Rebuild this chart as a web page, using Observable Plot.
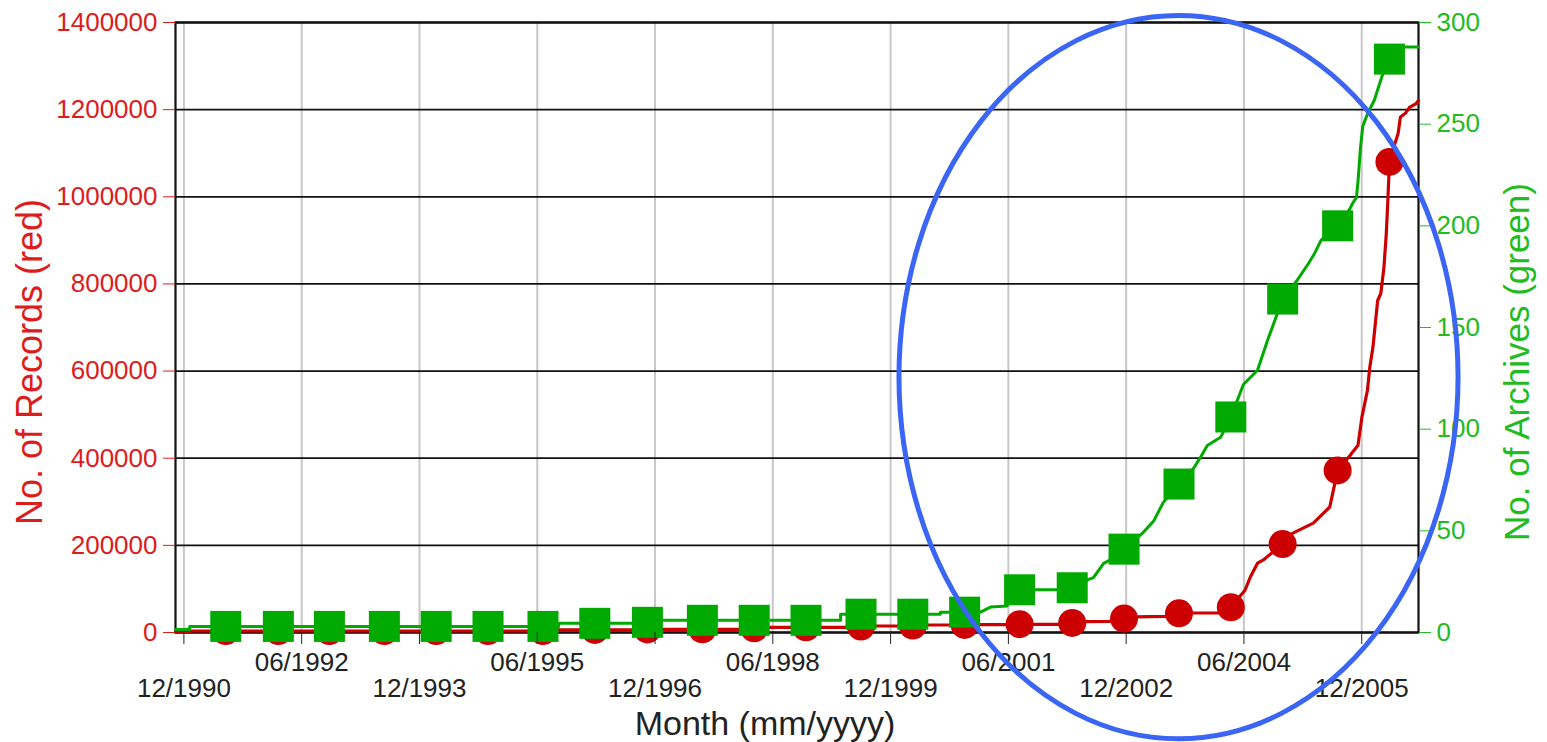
<!DOCTYPE html>
<html><head><meta charset="utf-8">
<script src="https://cdn.jsdelivr.net/npm/d3@7"></script>
<script src="https://cdn.jsdelivr.net/npm/@observablehq/plot@0.6"></script>
<style>
html,body{margin:0;padding:0;background:#fff;}
#chart{width:1547px;height:742px;}
</style></head><body><div id="chart"></div>
<script>
// ---- x axis ticks (decimal year) and labels ----
const tickYears = [1990.917, 1992.417, 1993.917, 1995.417, 1996.917, 1998.417, 1999.917, 2001.417, 2002.917, 2004.417, 2005.917];
const tickLabels = ["12/1990","06/1992","12/1993","06/1995","12/1996","06/1998","12/1999","06/2001","12/2002","06/2004","12/2005"];
const recordTicks = [0, 200000, 400000, 600000, 800000, 1000000, 1200000, 1400000];
const archiveTicks = [0, 50, 100, 150, 200, 250, 300];

// ---- marker positions (decimal year) ----
const markerYears = [1991.45, 1992.12, 1992.77, 1993.47, 1994.13, 1994.79, 1995.49, 1996.15, 1996.82, 1997.52, 1998.18, 1998.84, 1999.54, 2000.20, 2000.86, 2001.56, 2002.23, 2002.89, 2003.59, 2004.25, 2004.91, 2005.61, 2006.27];
const markerRecords = [3400, 3400, 3400, 3400, 3400, 3400, 3400, 6000, 7000, 7300, 9500, 11900, 13500, 16000, 17500, 19000, 22000, 32000, 44000, 58000, 203000, 372000, 1080000];
const markerArchives = [3, 3, 3, 3, 3, 3, 3, 4.5, 5, 6, 6, 6, 9, 9, 10, 21, 22, 41, 73, 106, 164, 200, 282];

// ---- red line: No. of Records ----
const recordYears = [1990.81, 1990.99, 1990.99, 1995.60, 1995.60, 1996.82, 1996.82, 1998.18, 1998.18, 1999.54, 1999.54, 2000.20, 2000.20, 2000.86, 2000.86, 2001.56, 2001.56, 2002.08, 2002.23, 2002.33, 2002.71, 2002.89, 2003.03, 2003.41, 2003.59, 2003.73, 2004.12, 2004.25, 2004.43, 2004.50, 2004.59, 2004.66, 2004.91, 2005.04, 2005.30, 2005.51, 2005.61, 2005.77, 2005.87, 2005.92, 2005.99, 2006.02, 2006.06, 2006.12, 2006.16, 2006.20, 2006.23, 2006.25, 2006.27, 2006.34, 2006.38, 2006.41, 2006.47, 2006.53, 2006.61, 2006.64];
const recordValues = [1000, 1000, 3400, 3400, 6000, 6000, 7300, 7300, 11900, 11900, 14900, 14900, 17200, 17200, 18000, 18000, 18500, 18500, 22000, 24800, 25500, 32000, 36000, 37000, 44000, 44700, 45000, 58000, 97000, 128000, 159000, 166000, 203000, 228000, 251000, 288000, 372000, 407000, 430000, 495000, 556000, 609000, 655000, 762000, 778000, 838000, 916000, 992000, 1080000, 1122000, 1145000, 1183000, 1191000, 1206000, 1214000, 1221000];

// ---- green line: No. of Archives ----
const archiveYears = [1990.81, 1990.99, 1990.99, 1995.69, 1995.69, 1996.82, 1996.82, 1999.28, 1999.28, 2000.55, 2000.55, 2001.06, 2001.19, 2001.40, 2001.45, 2002.08, 2002.10, 2002.23, 2002.43, 2002.50, 2002.63, 2002.68, 2002.89, 2003.13, 2003.27, 2003.39, 2003.59, 2003.78, 2003.86, 2003.95, 2004.12, 2004.25, 2004.41, 2004.59, 2004.72, 2004.91, 2005.09, 2005.23, 2005.31, 2005.40, 2005.61, 2005.76, 2005.80, 2005.85, 2005.87, 2005.90, 2005.93, 2005.99, 2006.08, 2006.12, 2006.18, 2006.27, 2006.30, 2006.64];
const archiveValues = [1.5, 1.5, 3, 3, 4.5, 4.5, 6, 6, 9, 9, 10, 10, 12.5, 13, 21, 21, 22, 22, 26, 27, 34, 35, 41, 49, 55, 64, 73, 81, 86, 92, 96, 106, 122, 129, 144, 164, 173, 181, 186, 193, 200, 208, 211, 214, 222, 238, 249, 255, 262, 267, 274, 282, 288, 288];

// ---- annotation ellipse (data units) ----
const ellipseCenterYear = 2003.59, ellipseCenterRecords = 585000;
const ellipseHalfYears = 3.56, ellipseHalfRecords = 830000;

const RED = "#cc0000", REDTXT = "#dd1c1c", GREEN = "#00aa00", GREENTXT = "#22bb22";
const K = 1400000 / 300; // archives -> records scale factor for the right axis
const FONT = "'Liberation Sans', Arial, Helvetica, sans-serif";

const recordLine = recordYears.map((x, i) => ({x, y: recordValues[i]}));
const archiveLine = archiveYears.map((x, i) => ({x, y: archiveValues[i] * K}));
const recordMarks = markerYears.map((x, i) => ({x, y: markerRecords[i]}));
const archiveMarks = markerYears.map((x, i) => ({x, y: markerArchives[i] * K}));
const labelOf = new Map(tickYears.map((t, i) => [t, tickLabels[i]]));
const juneTicks = tickYears.filter((t, i) => tickLabels[i].startsWith("06"));
const decTicks = tickYears.filter((t, i) => tickLabels[i].startsWith("12"));

const plot = Plot.plot({
  width: 1547, height: 742,
  marginLeft: 175, marginRight: 129, marginTop: 22, marginBottom: 110,
  style: {fontFamily: FONT, background: "#fff", overflow: "visible"},
  x: {domain: [1990.81, 2006.64], axis: null},
  y: {domain: [0, 1400000], axis: null},
  marks: [
    Plot.ruleX(tickYears, {stroke: "#c8c8c8", strokeWidth: 2}),
    Plot.ruleY(recordTicks, {stroke: "#111", strokeWidth: 1.8}),
    Plot.frame({stroke: "#111", strokeWidth: 2.2}),
    Plot.line(recordLine, {x: "x", y: "y", stroke: RED, strokeWidth: 3.2}),
    Plot.dot(recordMarks, {x: "x", y: "y", r: 14, fill: RED, stroke: "none"}),
    Plot.line(archiveLine, {x: "x", y: "y", stroke: GREEN, strokeWidth: 3}),
    Plot.dot(archiveMarks, {x: "x", y: "y", r: 17.5, symbol: "square", fill: GREEN, stroke: "none"}),
    Plot.axisY(recordTicks, {anchor: "left", tickSize: 12, tickPadding: 6, fontSize: 26, color: REDTXT, tickFormat: d => String(d), label: null}),
    Plot.axisY(archiveTicks.map(v => v * K), {anchor: "right", tickSize: 12, tickPadding: 6, fontSize: 26, color: GREENTXT, tickFormat: d => String(Math.round(d / K)), label: null}),
    Plot.axisX(juneTicks, {anchor: "bottom", tickSize: 12, tickPadding: 8, fontSize: 26, color: "#222", tickFormat: d => labelOf.get(d), label: null}),
    Plot.axisX(decTicks, {anchor: "bottom", tickSize: 12, tickPadding: 34, fontSize: 26, color: "#222", tickFormat: d => labelOf.get(d), label: null})
  ]
});
document.getElementById("chart").appendChild(plot);

const svg = d3.select(plot);
// axis titles
svg.append("text").attr("transform", "translate(32,362) rotate(-90)")
  .attr("text-anchor", "middle").attr("dominant-baseline", "middle")
  .attr("font-family", FONT).attr("font-size", 36).attr("fill", REDTXT).text("No. of Records (red)");
svg.append("text").attr("transform", "translate(1520,362) rotate(-90)")
  .attr("text-anchor", "middle").attr("dominant-baseline", "middle")
  .attr("font-family", FONT).attr("font-size", 35).attr("fill", GREENTXT).text("No. of Archives (green)");
svg.append("text").attr("x", 765).attr("y", 735)
  .attr("text-anchor", "middle").attr("font-family", FONT).attr("font-size", 34).attr("fill", "#222").text("Month (mm/yyyy)");

// annotation ellipse, positioned through the plot's scales
const sx = plot.scale("x"), sy = plot.scale("y");
const cx = sx.apply(ellipseCenterYear), cy = sy.apply(ellipseCenterRecords);
const rx = Math.abs(sx.apply(ellipseCenterYear + ellipseHalfYears) - cx);
const ry = Math.abs(sy.apply(ellipseCenterRecords + ellipseHalfRecords) - cy);
svg.append("ellipse").attr("cx", cx).attr("cy", cy).attr("rx", rx).attr("ry", ry)
  .attr("fill", "none").attr("stroke", "#3b66f5").attr("stroke-width", 5);
</script>
</body></html>
